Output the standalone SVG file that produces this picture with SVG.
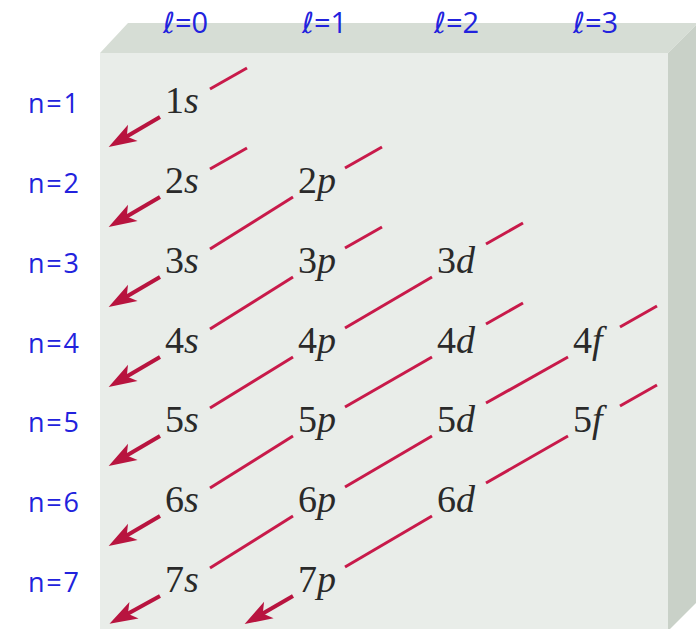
<svg xmlns="http://www.w3.org/2000/svg" width="696" height="629" viewBox="0 0 696 629">
<defs>
<style>
.lbl{font-family:"Liberation Serif","Times New Roman",serif;font-size:38px;fill:#2a2a2a}
.it{font-style:italic}
.blue{font-family:"Open Sans","Liberation Sans",sans-serif;font-size:27px;fill:#2222dd}
.top{font-size:29px}
.ell{font-family:"DejaVu Sans",sans-serif;font-style:italic}
.ln{stroke:#c81a4a;stroke-width:3;fill:none;stroke-linecap:butt}
.ar{stroke:#b8143f;stroke-width:4;fill:none;marker-end:url(#head)}
</style>
<marker id="head" viewBox="0 0 30 22" refX="17" refY="11" markerWidth="30" markerHeight="22" markerUnits="userSpaceOnUse" orient="auto">
<path d="M29,11 L1,1.5 L8,11 L1,20.5 Z" fill="#b8143f"/>
</marker>
</defs>
<g id="box">
<rect x="100" y="53" width="568" height="576" fill="#e9ede9"/>
<polygon points="100,53 128,23 696,23 696,25 668,53" fill="#d6ddd5"/>
<polygon points="668,53 696,25 696,603 670,629 668,629" fill="#c9d1c8"/>
</g>
<g id="l-labels" class="blue top">
<text x="163" y="33"><tspan class="ell">ℓ</tspan>=0</text>
<text x="302" y="33"><tspan class="ell">ℓ</tspan>=1</text>
<text x="434" y="33"><tspan class="ell">ℓ</tspan>=2</text>
<text x="573" y="33"><tspan class="ell">ℓ</tspan>=3</text>
</g>
<g id="n-labels" class="blue">
<text x="28" y="113" textLength="51" lengthAdjust="spacing">n=1</text>
<text x="28" y="193" textLength="51" lengthAdjust="spacing">n=2</text>
<text x="28" y="273" textLength="51" lengthAdjust="spacing">n=3</text>
<text x="28" y="353" textLength="51" lengthAdjust="spacing">n=4</text>
<text x="28" y="432" textLength="51" lengthAdjust="spacing">n=5</text>
<text x="28" y="512" textLength="51" lengthAdjust="spacing">n=6</text>
<text x="28" y="592" textLength="51" lengthAdjust="spacing">n=7</text>
</g>
<g id="connectors">
<line class="ln" x1="210" y1="89" x2="247" y2="68"/>
<line class="ar" x1="160" y1="117" x2="119" y2="141"/>
<line class="ln" x1="210" y1="169" x2="247" y2="148"/>
<line class="ar" x1="160" y1="197" x2="119" y2="221"/>
<line class="ln" x1="345" y1="168" x2="382" y2="147"/>
<line class="ln" x1="293" y1="197" x2="210" y2="249"/>
<line class="ar" x1="160" y1="277" x2="119" y2="301"/>
<line class="ln" x1="345" y1="248" x2="382" y2="227"/>
<line class="ln" x1="293" y1="277" x2="210" y2="329"/>
<line class="ar" x1="160" y1="357" x2="119" y2="381"/>
<line class="ln" x1="486" y1="244" x2="523" y2="223"/>
<line class="ln" x1="432" y1="277" x2="345" y2="328"/>
<line class="ln" x1="293" y1="357" x2="210" y2="408"/>
<line class="ar" x1="160" y1="436" x2="119" y2="460"/>
<line class="ln" x1="486" y1="324" x2="523" y2="303"/>
<line class="ln" x1="432" y1="357" x2="345" y2="407"/>
<line class="ln" x1="293" y1="436" x2="210" y2="488"/>
<line class="ar" x1="160" y1="516" x2="119" y2="540"/>
<line class="ln" x1="620" y1="327" x2="657" y2="306"/>
<line class="ln" x1="568" y1="357" x2="486" y2="403"/>
<line class="ln" x1="432" y1="436" x2="345" y2="487"/>
<line class="ln" x1="293" y1="516" x2="210" y2="568"/>
<line class="ar" x1="160" y1="596" x2="120" y2="618"/>
<line class="ln" x1="620" y1="406" x2="657" y2="385"/>
<line class="ln" x1="568" y1="436" x2="486" y2="483"/>
<line class="ln" x1="432" y1="516" x2="345" y2="567"/>
<line class="ar" x1="293" y1="596" x2="255" y2="618"/>
</g>
<g id="n1s" class="lbl"><text x="165" y="113">1<tspan class="it">s</tspan></text></g>
<g id="n2s" class="lbl"><text x="165" y="193">2<tspan class="it">s</tspan></text></g>
<g id="n2p" class="lbl"><text x="298" y="193">2<tspan class="it">p</tspan></text></g>
<g id="n3s" class="lbl"><text x="165" y="273">3<tspan class="it">s</tspan></text></g>
<g id="n3p" class="lbl"><text x="298" y="273">3<tspan class="it">p</tspan></text></g>
<g id="n3d" class="lbl"><text x="437" y="273">3<tspan class="it">d</tspan></text></g>
<g id="n4s" class="lbl"><text x="165" y="353">4<tspan class="it">s</tspan></text></g>
<g id="n4p" class="lbl"><text x="298" y="353">4<tspan class="it">p</tspan></text></g>
<g id="n4d" class="lbl"><text x="437" y="353">4<tspan class="it">d</tspan></text></g>
<g id="n4f" class="lbl"><text x="573" y="353">4<tspan class="it">f</tspan></text></g>
<g id="n5s" class="lbl"><text x="165" y="432">5<tspan class="it">s</tspan></text></g>
<g id="n5p" class="lbl"><text x="298" y="432">5<tspan class="it">p</tspan></text></g>
<g id="n5d" class="lbl"><text x="437" y="432">5<tspan class="it">d</tspan></text></g>
<g id="n5f" class="lbl"><text x="573" y="432">5<tspan class="it">f</tspan></text></g>
<g id="n6s" class="lbl"><text x="165" y="512">6<tspan class="it">s</tspan></text></g>
<g id="n6p" class="lbl"><text x="298" y="512">6<tspan class="it">p</tspan></text></g>
<g id="n6d" class="lbl"><text x="437" y="512">6<tspan class="it">d</tspan></text></g>
<g id="n7s" class="lbl"><text x="165" y="592">7<tspan class="it">s</tspan></text></g>
<g id="n7p" class="lbl"><text x="298" y="592">7<tspan class="it">p</tspan></text></g>
</svg>
